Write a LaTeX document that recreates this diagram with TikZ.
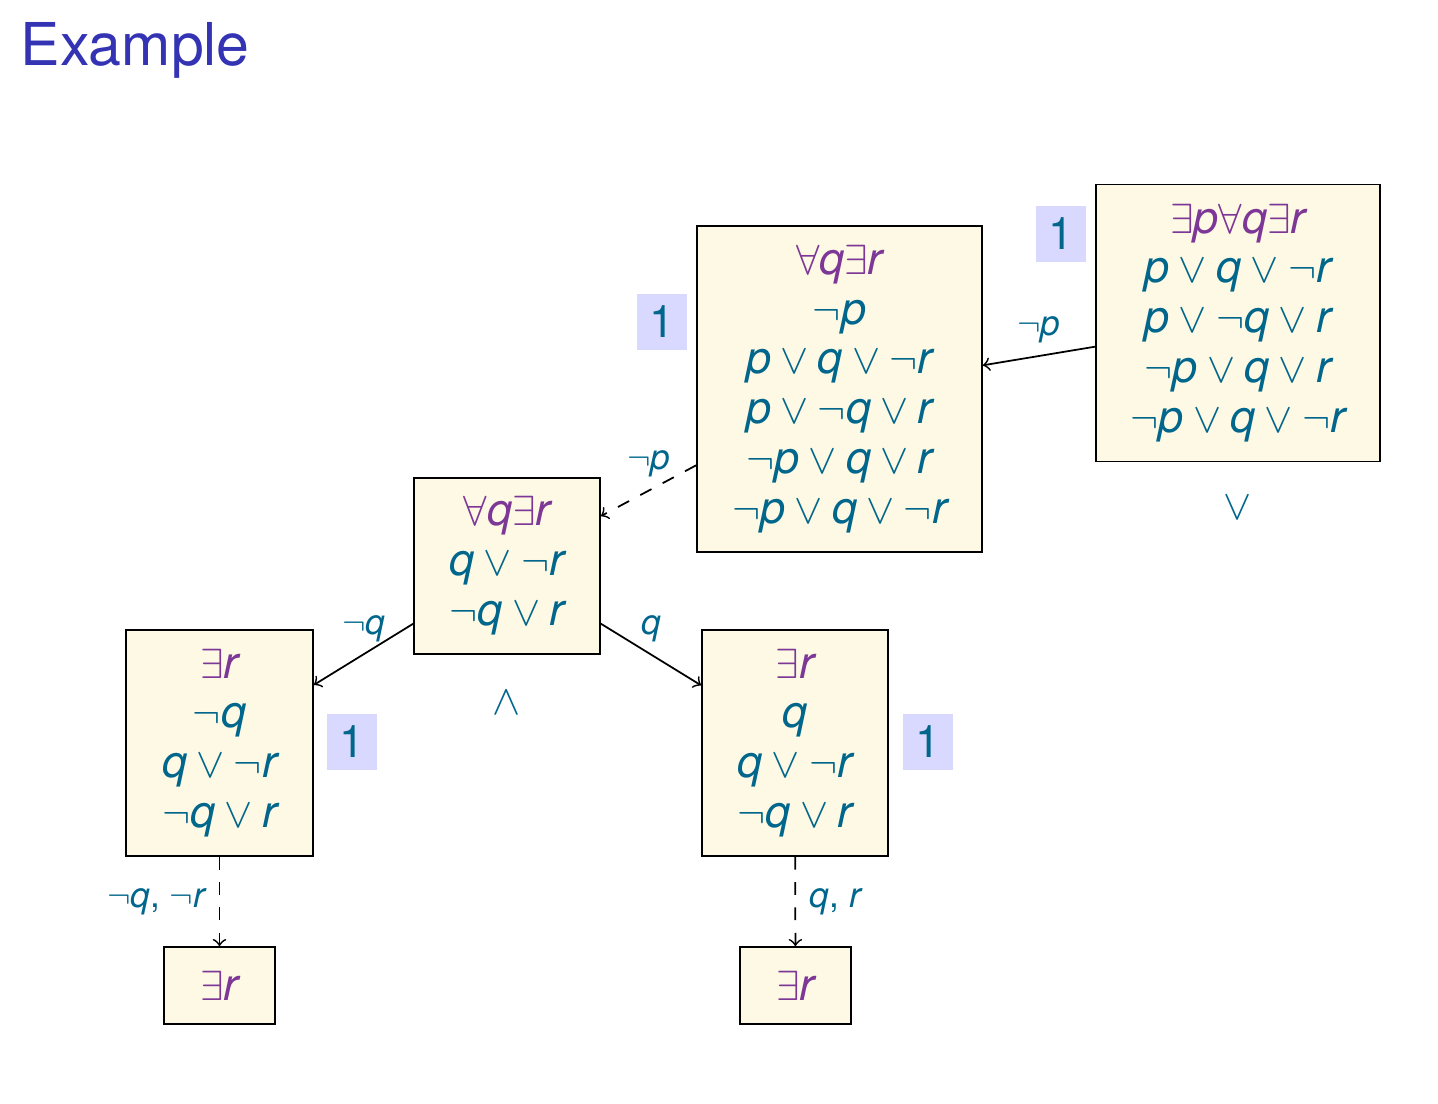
\documentclass[tikz,border=0pt]{standalone}
\usepackage{fontspec}
\setmainfont{TeX Gyre Heros}
\usetikzlibrary{arrows}
\definecolor{mathcol}{RGB}{0,102,140}
\definecolor{qcol}{RGB}{125,55,150}
\definecolor{titlecol}{RGB}{51,51,179}
\definecolor{boxfill}{RGB}{253,249,228}
\definecolor{onefill}{RGB}{217,217,255}
\newcommand{\Vp}{\textit{p}}
\newcommand{\Vq}{\textit{q}}
\newcommand{\Vr}{\textit{r}}
\newcommand{\Qf}[1]{{\color{qcol}$#1$}}
\tikzset{
  statebox/.style={draw=black, fill=boxfill, line width=0.5pt, inner sep=0pt, align=center, text=mathcol,
    font=\fontsize{12.8}{14.2}\selectfont},
  onebox/.style={fill=onefill, text=mathcol, minimum width=5mm, minimum height=5.6mm, inner sep=0pt,
    font=\fontsize{12.8}{14.2}\selectfont},
  opnode/.style={text=mathcol, font=\fontsize{12.8}{14.2}\selectfont},
  elabel/.style={text=mathcol, font=\fontsize{10}{12}\selectfont},
  conn/.style={->, line width=0.5pt},
  dconn/.style={->, dash pattern=on 3.6pt off 3.6pt, line width=0.5pt}
}
\begin{document}
\begin{tikzpicture}[x=0.1mm,y=-0.1mm]
\useasboundingbox (0,0) rectangle (1438,1104);
\node[anchor=base west, text=titlecol, font=\fontsize{16.8}{20}\selectfont, inner sep=0pt] (title) at (20,65) {Example};

\node[statebox, minimum width=28.4mm, minimum height=27.7mm] (R) at (1238,323)
 {\Qf{\exists\Vp\forall\Vq\exists\Vr}\\ $\Vp\lor\Vq\lor\neg\Vr$\\ $\Vp\lor\neg\Vq\lor\Vr$\\ $\neg\Vp\lor\Vq\lor\Vr$\\ $\neg\Vp\lor\Vq\lor\neg\Vr$};
\node[statebox, minimum width=28.5mm, minimum height=32.6mm] (A) at (839.5,389)
 {\Qf{\forall\Vq\exists\Vr}\\ $\neg\Vp$\\ $\Vp\lor\Vq\lor\neg\Vr$\\ $\Vp\lor\neg\Vq\lor\Vr$\\ $\neg\Vp\lor\Vq\lor\Vr$\\ $\neg\Vp\lor\Vq\lor\neg\Vr$};
\node[statebox, minimum width=18.6mm, minimum height=17.6mm] (B) at (507,566)
 {\Qf{\forall\Vq\exists\Vr}\\ $\Vq\lor\neg\Vr$\\ $\neg\Vq\lor\Vr$};
\node[statebox, minimum width=18.7mm, minimum height=22.6mm] (C) at (219.5,743)
 {\Qf{\exists\Vr}\\ $\neg\Vq$\\ $\Vq\lor\neg\Vr$\\ $\neg\Vq\lor\Vr$};
\node[statebox, minimum width=18.6mm, minimum height=22.6mm] (D) at (795,743)
 {\Qf{\exists\Vr}\\ $\Vq$\\ $\Vq\lor\neg\Vr$\\ $\neg\Vq\lor\Vr$};
\node[statebox, minimum width=11.1mm, minimum height=7.7mm] (E) at (219.5,985.5) {\Qf{\exists\Vr}};
\node[statebox, minimum width=11.1mm, minimum height=7.7mm] (F) at (795.5,985.5) {\Qf{\exists\Vr}};

\node[onebox] (oR) at (1061,233.5) {1};
\node[onebox] (oA) at (662,322) {1};
\node[onebox] (oC) at (352,742) {1};
\node[onebox] (oD) at (928,742) {1};

\node[opnode] (orR) at (1238,508) {$\lor$};
\node[opnode] (andB) at (507,703) {$\land$};

\draw[conn] (R) -- node[elabel, pos=0.5, above=0mm] {$\neg\Vp$} (A);
\draw[dconn] (A) -- node[elabel, pos=0.5, above=0.1mm] {$\neg\Vp$} (B);
\draw[conn] (B) -- node[elabel, pos=0.5, above=0mm] {$\neg\Vq$} (C);
\draw[conn] (B) -- node[elabel, pos=0.5, above=0mm] {$\Vq$} (D);
\draw[dconn] (C) -- node[elabel, midway, left=0.2mm] {$\neg\Vq$, $\neg\Vr$} (E);
\draw[dconn] (D) -- node[elabel, midway, right=0.2mm] {$\Vq$, $\Vr$} (F);
\end{tikzpicture}
\end{document}
